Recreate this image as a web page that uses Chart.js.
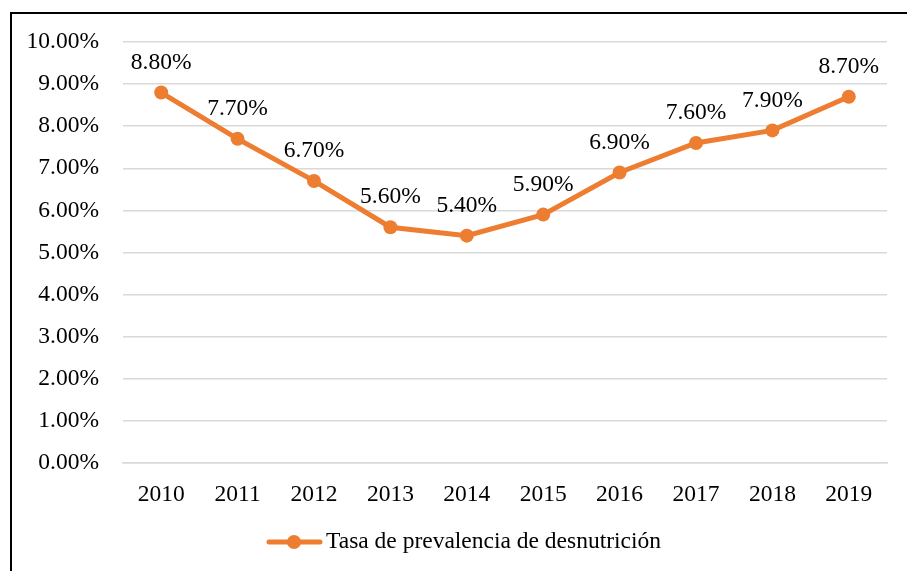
<!DOCTYPE html>
<html lang="es">
<head>
<meta charset="UTF-8">
<title>Tasa de prevalencia de desnutrición</title>
<script src="https://cdn.jsdelivr.net/npm/chart.js"></script>
<style>
    body { margin: 0; background: #ffffff; }
    .frame {
        position: absolute;
        left: 10px; top: 12px;
        width: 897px; height: 559px;
        border-left: 2px solid #000;
        border-top: 2px solid #000;
    }
    canvas { position: absolute; left: 0; top: 0; }
</style>
</head>
<body>
<div class="frame"></div>
<canvas id="chart" width="907" height="571"></canvas>
<script>
// data
const years = ['2010', '2011', '2012', '2013', '2014', '2015', '2016', '2017', '2018', '2019'];
const prevalence = [8.8, 7.7, 6.7, 5.6, 5.4, 5.9, 6.9, 7.6, 7.9, 8.7];
const seriesName = 'Tasa de prevalencia de desnutrición';

const orange = '#ED7D31';
const font = 'Liberation Serif, Times New Roman, serif';
const fontSize = 23.5;

// value labels above each point
const valueLabels = {
    id: 'valueLabels',
    afterDatasetsDraw(chart) {
        const ctx = chart.ctx;
        const meta = chart.getDatasetMeta(0);
        ctx.save();
        ctx.font = fontSize + 'px ' + font;
        ctx.fillStyle = '#000';
        ctx.textAlign = 'center';
        ctx.textBaseline = 'middle';
        meta.data.forEach((pt, i) => {
            ctx.fillText(prevalence[i].toFixed(2) + '%', pt.x, pt.y - 30);
        });
        ctx.restore();
    }
};

// legend: line with a dot, then the series name
const lineLegend = {
    id: 'lineLegend',
    afterDraw(chart) {
        const ctx = chart.ctx;
        const y = 542;
        ctx.save();
        ctx.strokeStyle = orange;
        ctx.lineWidth = 5;
        ctx.lineCap = 'round';
        ctx.beginPath();
        ctx.moveTo(269, y);
        ctx.lineTo(320, y);
        ctx.stroke();
        ctx.fillStyle = orange;
        ctx.beginPath();
        ctx.arc(294, y, 7, 0, Math.PI * 2);
        ctx.fill();
        ctx.font = fontSize + 'px ' + font;
        ctx.fillStyle = '#000';
        ctx.textBaseline = 'middle';
        ctx.fillText(seriesName, 326, y);
        ctx.restore();
    }
};

new Chart(document.getElementById('chart'), {
    type: 'line',
    data: {
        labels: years,
        datasets: [{
            label: seriesName,
            data: prevalence,
            borderColor: orange,
            backgroundColor: orange,
            borderWidth: 5,
            pointRadius: 7,
            pointHoverRadius: 7,
            pointBackgroundColor: orange,
            pointBorderColor: orange,
            pointBorderWidth: 0,
            tension: 0
        }]
    },
    options: {
        responsive: false,
        animation: false,
        layout: { padding: { left: 0, top: 42, right: 20, bottom: 0 } },
        plugins: {
            legend: { display: false },
            tooltip: { enabled: false }
        },
        scales: {
            x: {
                offset: true,
                grid: { display: false },
                border: { color: '#d9d9d9', width: 1.5 },
                ticks: {
                    color: '#000',
                    font: { family: font, size: fontSize },
                    padding: 10,
                    maxRotation: 0
                },
                afterFit(axis) { axis.height = 108; }
            },
            y: {
                min: 0,
                max: 10,
                grid: { color: '#d9d9d9', lineWidth: 1.5, drawTicks: false },
                border: { display: false },
                ticks: {
                    stepSize: 1,
                    color: '#000',
                    font: { family: font, size: fontSize },
                    padding: 24,
                    callback: v => v.toFixed(2) + '%'
                },
                afterFit(axis) { axis.width = 123; }
            }
        }
    },
    plugins: [valueLabels, lineLegend]
});
</script>
</body>
</html>
